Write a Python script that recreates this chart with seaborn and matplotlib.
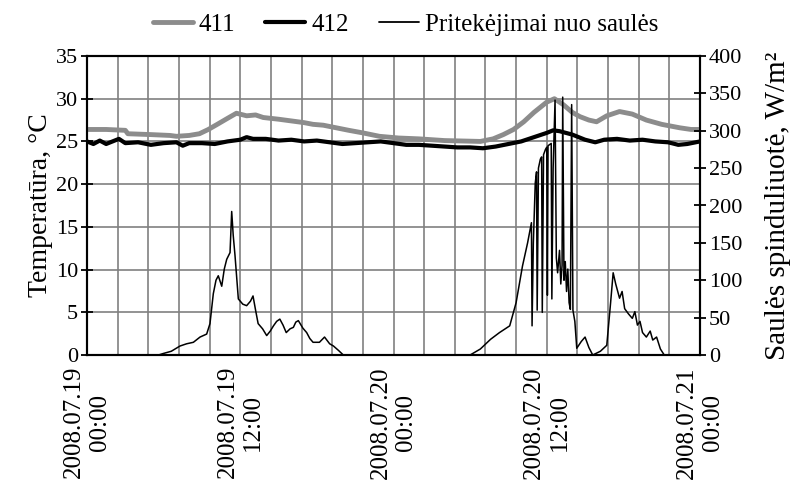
import numpy as np
import pandas as pd
import matplotlib
matplotlib.use("Agg")
import matplotlib.pyplot as plt
import seaborn as sns
from matplotlib.lines import Line2D

# ---------------- data (hours from 2008.07.19 00:00) ----------------
t411 = [0, 1.5, 3.0, 3.2, 5, 6.5, 7, 8, 8.8, 9.5, 10.2, 11, 11.7, 12.5, 13.2, 13.8,
        15, 16, 17, 17.7, 18.5, 19.5, 20.5, 21.6, 22.9, 24.4, 26, 28, 30.8, 31.8,
        32.6, 33.4, 34.2, 35.0, 36.0, 36.6, 37.3, 38.0, 38.6, 39.3, 39.9, 40.7,
        41.7, 42.7, 43.8, 45.0, 46.4, 47.3, 48]
v411 = [26.4, 26.4, 26.3, 25.9, 25.8, 25.7, 25.6, 25.7, 25.9, 26.4, 27.0, 27.7, 28.3,
        28.0, 28.1, 27.8, 27.6, 27.4, 27.2, 27.0, 26.9, 26.6, 26.3, 26.0, 25.6, 25.4,
        25.3, 25.1, 25.0, 25.3, 25.8, 26.4, 27.3, 28.4, 29.6, 30.0, 29.3, 28.4, 27.9,
        27.5, 27.3, 28.0, 28.5, 28.2, 27.5, 27.0, 26.6, 26.4, 26.4]

t412 = [0, 0.5, 1, 1.5, 2, 2.5, 3, 4, 5, 6, 7, 7.5, 8, 9, 10, 11, 12, 12.5, 13, 14,
        15, 16, 17, 18, 19, 20, 21, 22, 23, 24, 25, 26, 27, 28, 29, 30, 31, 32, 33,
        34, 35, 36, 36.5, 37, 38, 39, 39.8, 40.5, 41.5, 42.5, 43.5, 44.5, 45.5,
        46.3, 47, 48]
v412 = [25.0, 24.7, 25.1, 24.7, 25.0, 25.3, 24.8, 24.9, 24.6, 24.8, 24.9, 24.5, 24.8,
        24.8, 24.7, 25.0, 25.2, 25.5, 25.3, 25.3, 25.1, 25.2, 25.0, 25.1, 24.9, 24.7,
        24.8, 24.9, 25.0, 24.8, 24.6, 24.6, 24.5, 24.4, 24.3, 24.3, 24.2, 24.4, 24.7,
        25.0, 25.5, 26.0, 26.3, 26.2, 25.8, 25.2, 24.9, 25.2, 25.3, 25.1, 25.2, 25.0,
        24.9, 24.6, 24.7, 25.0]

t_sun = [0, 5.6, 5.97, 6.6, 7.28, 7.8, 8.33, 8.85, 9.37, 9.63, 9.89, 10.1, 10.28,
         10.55, 10.75, 10.94, 11.2, 11.33, 11.45, 11.59, 11.85, 12.2, 12.5, 12.8,
         13.0, 13.2, 13.4, 13.75, 14.07, 14.35, 14.6, 14.85, 15.1, 15.35, 15.6, 15.9,
         16.16, 16.35, 16.55, 16.9, 17.2, 17.45, 17.7, 18.2, 18.6, 19.0, 19.3, 19.7,
         20.07,
         30.0, 30.8, 31.6, 32.3, 33.1, 33.6, 34.1, 34.5, 34.8, 34.85, 34.95, 35.1,
         35.2, 35.25, 35.35, 35.5, 35.6, 35.65, 35.75, 35.9, 36.0, 36.05, 36.1, 36.35,
         36.4, 36.5, 36.65, 36.75, 36.85, 37.0, 37.1, 37.2, 37.25, 37.35, 37.45,
         37.55, 37.65, 37.75, 37.85, 37.95, 38.05, 38.2, 38.35, 38.7, 39.0, 39.3,
         39.6, 40.2, 40.7, 41.0, 41.2, 41.4, 41.7, 41.9, 42.1, 42.4, 42.7, 42.9,
         43.1, 43.3, 43.5, 43.8, 44.1, 44.3, 44.6, 44.9, 45.2, 48]
v_sun = [0, 0, 2, 5, 12, 15, 17, 24, 28, 42, 82, 100, 106, 92, 115, 128, 137, 192,
         160, 133, 75, 68, 66, 72, 79, 60, 42, 35, 26, 32, 39, 45, 48, 40, 30, 35, 37,
         44, 46, 36, 30, 22, 17, 17, 24, 15, 12, 6, 0,
         0, 8, 21, 30, 39, 70, 119, 150, 177, 39, 150, 230,
         245, 60, 250, 262, 265, 57, 268, 275, 278, 80, 280, 283,
         75, 250, 341, 130, 110, 140, 95, 120, 345, 100, 125,
         85, 115, 70, 61, 335, 60, 45, 9, 18, 24, 10,
         0, 5, 13, 70, 110, 95, 76, 85, 62, 55, 49, 58,
         40, 45, 30, 24, 32, 20, 24, 8, 0, 0]

x_ticks = [0, 12, 24, 36, 48]
x_labels = ["2008.07.19\n00:00", "2008.07.19\n12:00", "2008.07.20\n00:00",
            "2008.07.20\n12:00", "2008.07.21\n00:00"]
legend_labels = ["411", "412", "Pritekėjimai nuo saulės"]

df411 = pd.DataFrame({"h": t411, "T": v411})
df412 = pd.DataFrame({"h": t412, "T": v412})
dfsun = pd.DataFrame({"h": t_sun, "R": v_sun})

# ---------------- style ----------------
sns.set_theme(style="white")
plt.rcParams['font.family'] = ['Liberation Serif', 'DejaVu Serif']
for k in ['text.color', 'axes.labelcolor', 'xtick.color', 'ytick.color', 'axes.edgecolor']:
    plt.rcParams[k] = 'black'

gray = '#8c8c8c'
gridc = '#808080'
fig = plt.figure(figsize=(8.05, 4.9), dpi=100)
ax = fig.add_axes([87/805, 1-355/490, 613/805, 299/490])

sns.lineplot(data=df411, x="h", y="T", ax=ax, color=gray, lw=3.5, estimator=None, sort=False, zorder=3)
sns.lineplot(data=df412, x="h", y="T", ax=ax, color='black', lw=3.0, estimator=None, sort=False, zorder=4)

ax.set_xlim(0, 48)
ax.set_ylim(0, 35)
ax.set_yticks(np.arange(0, 36, 5))
ax.set_xticks(x_ticks)
minor = [round(2.4 * i, 2) for i in range(21) if i % 5 != 0]
ax.set_xticks(minor, minor=True)
ax.set_xticklabels(x_labels, rotation=90, fontsize=18, multialignment='center')
ax.grid(True, which='major', axis='both', color=gridc, lw=1.2)
ax.grid(True, which='minor', axis='x', color=gridc, lw=1.2)
ax.set_axisbelow(True)
ax.tick_params(axis='x', which='major', direction='inout', length=10, width=1.3, pad=3)
ax.tick_params(axis='x', which='minor', length=0)
ax.tick_params(axis='y', direction='inout', length=9, width=1.3, labelsize=16, pad=2, left=True)
ax.set_xlabel("")
ax.set_ylabel("Temperatūra, °C", fontsize=20, labelpad=2)
for s in ax.spines.values():
    s.set_color('black')
    s.set_linewidth(1.5)

ax2 = ax.twinx()
sns.lineplot(data=dfsun, x="h", y="R", ax=ax2, color='black', lw=1.1, estimator=None, sort=False)
ax2.set_ylim(0, 400)
ax2.set_yticks(np.arange(0, 401, 50))
ax2.tick_params(axis='y', direction='inout', length=9, width=1.3, labelsize=16, pad=2, right=True)
ax2.set_ylabel("Saulės spinduliuotė, W/m²", fontsize=21, labelpad=16)
ax2.set_xlim(0, 48)
ax2.grid(False)
for s in ax2.spines.values():
    s.set_color('black')
    s.set_linewidth(1.5)

handles = [Line2D([], [], color=gray, lw=3.5),
           Line2D([], [], color='black', lw=3.0),
           Line2D([], [], color='black', lw=1.3)]
fig.legend(handles, legend_labels, loc='center', bbox_to_anchor=(0.504, 0.949), ncol=3,
           frameon=False, fontsize=18, handlelength=1.6, handletextpad=0.25,
           columnspacing=1.2)

fig.savefig("out.png", dpi=100)
